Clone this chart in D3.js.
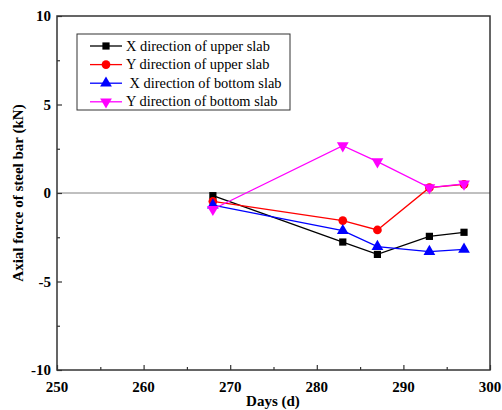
<!DOCTYPE html>
<html>
<head>
<meta charset="utf-8">
<script src="https://cdn.jsdelivr.net/npm/d3@7"></script>
<style>
body { margin: 0; background: #fff; }
text { font-family: "Liberation Serif", "Times New Roman", serif; }
</style>
</head>
<body>
<svg width="502" height="410"></svg>
<script>
var days = [268, 283, 287, 293, 297];
var xUpper = [-0.15, -2.77, -3.47, -2.45, -2.22];
var yUpper = [-0.47, -1.56, -2.09, 0.3, 0.49];
var xBottom = [-0.68, -2.13, -3.03, -3.31, -3.18];
var yBottom = [-0.92, 2.67, 1.77, 0.3, 0.51];
var seriesNames = ["X direction of upper slab", "Y direction of upper slab", " X direction of bottom slab", "Y direction of bottom slab"];
var xTicks = [250, 260, 270, 280, 290, 300];
var yTicks = [-10, -5, 0, 5, 10];

var svg = d3.select("svg"),
    pLeft = 57, pRight = 490, pTop = 16, pBottom = 370;

var x = d3.scaleLinear().domain([250, 300]).range([pLeft, pRight]);
var y = d3.scaleLinear().domain([-10, 10]).range([pBottom, pTop]);

var series = [
    {name: seriesNames[0], vals: xUpper, color: "#000000", sym: d3.symbolSquare, size: 52, rot: 0},
    {name: seriesNames[1], vals: yUpper, color: "#ff0000", sym: d3.symbolCircle, size: 60, rot: 0},
    {name: seriesNames[2], vals: xBottom, color: "#0000ff", sym: d3.symbolTriangle, size: 60, rot: 0},
    {name: seriesNames[3], vals: yBottom, color: "#ff00ff", sym: d3.symbolTriangle, size: 60, rot: 180}
];

// zero line
svg.append("line")
    .attr("x1", pLeft).attr("x2", pRight)
    .attr("y1", y(0)).attr("y2", y(0))
    .attr("stroke", "#808080").attr("stroke-width", 1);

// ticks inward
var xAxis = d3.axisBottom(x).tickValues(d3.range(250, 301, 5)).tickSize(-4).tickFormat("");
svg.append("g").attr("transform", "translate(0," + pBottom + ")").call(xAxis)
    .call(function (g) {
        g.select(".domain").remove();
        g.selectAll(".tick line").attr("stroke", "#333").attr("stroke-width", 1.2)
            .attr("y2", function (d) { return d % 10 === 0 ? -5 : -3; });
    });
var yAxis = d3.axisLeft(y).tickValues(d3.range(-10, 10.1, 2.5)).tickSize(-4).tickFormat("");
svg.append("g").attr("transform", "translate(" + pLeft + ",0)").call(yAxis)
    .call(function (g) {
        g.select(".domain").remove();
        g.selectAll(".tick line").attr("stroke", "#333").attr("stroke-width", 1.2)
            .attr("x2", function (d) { return d % 5 === 0 ? 5 : 3; });
    });

// frame
svg.append("rect")
    .attr("x", pLeft).attr("y", pTop)
    .attr("width", pRight - pLeft).attr("height", pBottom - pTop)
    .attr("fill", "none").attr("stroke", "#333").attr("stroke-width", 1.5);

// tick labels
svg.selectAll(".xl").data(xTicks).enter().append("text")
    .attr("x", function (d) { return x(d); }).attr("y", 392)
    .attr("text-anchor", "middle").attr("font-size", 15).attr("font-weight", "bold")
    .text(function (d) { return d; });
svg.selectAll(".yl").data(yTicks).enter().append("text")
    .attr("x", 51).attr("y", function (d) { return y(d) + 5; })
    .attr("text-anchor", "end").attr("font-size", 15).attr("font-weight", "bold")
    .text(function (d) { return d; });

// axis titles
svg.append("text").attr("x", 273).attr("y", 406)
    .attr("text-anchor", "middle").attr("font-size", 15).attr("font-weight", "bold")
    .text("Days (d)");
svg.append("text")
    .attr("transform", "translate(23," + y(0) + ") rotate(-90)")
    .attr("text-anchor", "middle").attr("font-size", 15).attr("font-weight", "bold")
    .text("Axial force of steel bar (kN)");

// lines and markers
var line = d3.line()
    .x(function (d, i) { return x(days[i]); })
    .y(function (d) { return y(d); });

series.forEach(function (s) {
    svg.append("path").datum(s.vals)
        .attr("fill", "none").attr("stroke", s.color).attr("stroke-width", 1.3)
        .attr("d", line);
    svg.selectAll(null).data(s.vals).enter().append("path")
        .attr("d", d3.symbol().type(s.sym).size(s.size))
        .attr("fill", s.color)
        .attr("transform", function (d, i) {
            return "translate(" + x(days[i]) + "," + y(d) + ") rotate(" + s.rot + ")";
        });
});

// legend
var lg = svg.append("g");
lg.append("rect").attr("x", 77).attr("y", 34).attr("width", 213).attr("height", 76)
    .attr("fill", "#fff").attr("stroke", "#333").attr("stroke-width", 1);
series.forEach(function (s, i) {
    var ry = 46 + i * 18.6;
    lg.append("line").attr("x1", 90).attr("x2", 122).attr("y1", ry).attr("y2", ry)
        .attr("stroke", s.color).attr("stroke-width", 1.3);
    lg.append("path").attr("d", d3.symbol().type(s.sym).size(s.size))
        .attr("fill", s.color)
        .attr("transform", "translate(106," + ry + ") rotate(" + s.rot + ")");
    lg.append("text").attr("x", 126).attr("y", ry + 4.5)
        .attr("font-size", 14.4).attr("xml:space", "preserve").style("white-space", "pre")
        .text(s.name);
});
</script>
</body>
</html>
